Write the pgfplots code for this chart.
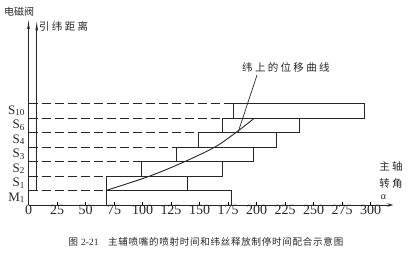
\documentclass[border=0pt]{standalone}
\usepackage{fontspec}
\setmainfont{Liberation Serif}
\newfontfamily\cjk{Noto Sans CJK SC}
\newfontfamily\cjksp{Noto Sans CJK SC}[LetterSpace=22]
\newfontfamily\cjkcap{Noto Sans CJK SC}[LetterSpace=8]
\usepackage{pgfplots}
\pgfplotsset{compat=1.18}
\usetikzlibrary{arrows.meta}

\begin{document}
\begin{tikzpicture}
\useasboundingbox (-28.5pt,-55pt) rectangle (387.5pt,205pt);
\begin{axis}[
  scale only axis, width=364.8pt, height=187.05pt,
  xmin=0, xmax=320, ymin=0, ymax=12.9,
  axis lines=left,
  clip=false,
  axis line style={line width=0.9pt, black!85},
  x axis line style={-{Stealth[length=6pt,width=3.5pt]}},
  y axis line style={-{Latex[length=11pt,width=2.6pt]}},
  xtick={0,25,...,300},
  tick align=inside, major tick length=2.5pt,
  x tick style={black, line width=0.7pt},
  /pgf/number format/assume math mode=true,
  xticklabel style={font=\fontsize{14}{14}\selectfont, yshift=3pt, black!85},
  ytick={0.5,1.5,2.5,3.5,4.5,5.5,6.5},
  yticklabels={M\textsubscript{1},S\textsubscript{1},S\textsubscript{2},S\textsubscript{3},S\textsubscript{4},S\textsubscript{6},S\textsubscript{10}},
  y tick style={draw=none},
  yticklabel style={font=\fontsize{13}{14}\selectfont, black!85},
]
% bars (rectangles)
\addplot[black!85, line width=0.9pt, line cap=rect] coordinates {(68,0)(177.6,0)(177.6,1)(68,1)(68,0)};
\addplot[black!85, line width=0.9pt, line cap=rect] coordinates {(68,1)(139,1)(139,2)(68,2)(68,1)};
\addplot[black!85, line width=0.9pt, line cap=rect] coordinates {(98.7,2)(170.3,2)(170.3,3)(98.7,3)(98.7,2)};
\addplot[black!85, line width=0.9pt, line cap=rect] coordinates {(129.4,3)(197.2,3)(197.2,4)(129.4,4)(129.4,3)};
\addplot[black!85, line width=0.9pt, line cap=rect] coordinates {(148.7,4)(217.7,4)(217.7,5)(148.7,5)(148.7,4)};
\addplot[black!85, line width=0.9pt, line cap=rect] coordinates {(170,5)(237.5,5)(237.5,6)(170,6)(170,5)};
\addplot[black!85, line width=0.9pt, line cap=rect] coordinates {(179.6,6)(294.3,6)(294.3,7)(179.6,7)(179.6,6)};
% dashed guide lines
\addplot[black!85, line width=0.9pt, dash pattern=on 9pt off 4pt] coordinates {(0,1)(68,1)};
\addplot[black!85, line width=0.9pt, dash pattern=on 9pt off 4pt] coordinates {(0,2)(68,2)};
\addplot[black!85, line width=0.9pt, dash pattern=on 9pt off 4pt] coordinates {(0,3)(98.7,3)};
\addplot[black!85, line width=0.9pt, dash pattern=on 9pt off 4pt] coordinates {(0,4)(129.4,4)};
\addplot[black!85, line width=0.9pt, dash pattern=on 9pt off 4pt] coordinates {(0,5)(148.7,5)};
\addplot[black!85, line width=0.9pt, dash pattern=on 9pt off 4pt] coordinates {(0,6)(170,6)};
\addplot[black!85, line width=0.9pt, dash pattern=on 9pt off 4pt] coordinates {(0,7)(179.6,7)};
% second vertical axis (weft insertion distance)
\addplot[black!85, line width=0.9pt, -{Latex[length=11pt,width=2.6pt]}] coordinates {(7.2,1)(7.2,12.8)};
% weft displacement curve
\addplot[black!85, line width=0.9pt, smooth] coordinates {(68,1)(106.6,2)(137.3,3)(163.6,4)(182,5)(197.5,5.95)};
% leader line
\addplot[black!85, line width=0.7pt] coordinates {(200.4,8.95)(184,5.05)};
% texts
\node[font=\cjk\fontsize{10}{10}\selectfont, black!85] at (axis cs:-8.3,13.3) {电磁阀};
\node[font=\cjksp\fontsize{10.5}{10}\selectfont, anchor=west, inner sep=0pt, black!85] at (axis cs:9.2,12.3) {引纬距离};
\node[font=\cjksp\fontsize{10.5}{10}\selectfont, anchor=west, inner sep=0pt, black!85] at (axis cs:187.3,9.5) {纬上的位移曲线};
\node[font=\cjksp\fontsize{10.5}{10}\selectfont, black!85] at (axis cs:318,2.62) {主轴};
\node[font=\cjksp\fontsize{10.5}{10}\selectfont, black!85] at (axis cs:318,1.45) {转角};
\node[font=\fontsize{10}{10}\selectfont, black!85] at (axis cs:311.5,0.55) {α};
\node[font=\cjkcap\fontsize{9.5}{10}\selectfont, black!85] at (axis cs:155.7,-2.55) {图 {\fontspec{Liberation Serif}2-21}\quad 主辅喷嘴的喷射时间和纬丝释放制停时间配合示意图};
\end{axis}
\end{tikzpicture}
\end{document}
